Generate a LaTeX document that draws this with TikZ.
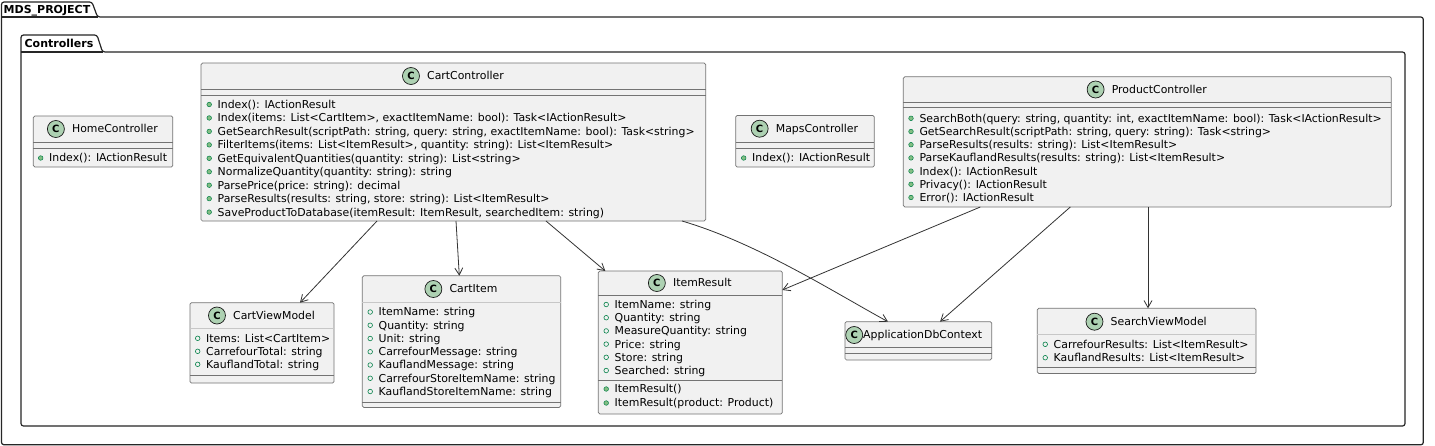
\documentclass[tikz,border=0pt]{standalone}
\usepackage{fontspec}
\setmainfont{DejaVu Sans}
\usetikzlibrary{arrows.meta,calc,positioning}
\definecolor{clsfill}{HTML}{F1F1F1}
\definecolor{clsline}{HTML}{181818}
\definecolor{spotfill}{HTML}{ADD1B2}
\definecolor{pubfill}{HTML}{84BE84}
\definecolor{publine}{HTML}{038048}
\newcommand\umlmeth[4]{\filldraw[methdot] (#2-8.3,#3) circle[radius=2.3pt]; \node[clsmember] (#1) at (#2,#3) {#4};}
\newcommand\umlfield[4]{\filldraw[fielddot] (#2-8.3,#3) circle[radius=2.3pt]; \node[clsmember] (#1) at (#2,#3) {#4};}
\begin{document}
\begin{tikzpicture}[x=1pt,y=-1pt,
  font=\fontsize{10.9}{13}\selectfont,
  clsbox/.style={draw=black!55, fill=clsfill, line width=0.7pt, rounded corners=1.5pt, anchor=north west, inner sep=0pt, outer sep=0pt},
  clssep/.style={draw=black!55, line width=0.6pt},
  clsfaint/.style={draw=black!22, line width=0.5pt},
  clsname/.style={inner sep=0pt, text height=7.8pt, text depth=0pt, anchor=center},
  clsmember/.style={inner sep=0pt, text height=7.8pt, text depth=0pt, anchor=west},
  clsspot/.style={circle, draw=clsline, fill=spotfill, line width=0.7pt, minimum size=17pt, inner sep=0pt, font=\fontsize{10}{10}\selectfont\bfseries},
  methdot/.style={fill=pubfill, draw=publine, line width=0.5pt},
  fielddot/.style={fill=clsfill, draw=publine, line width=0.6pt},
  deparrow/.style={draw=black!80, line width=0.8pt, -{Straight Barb[length=7pt,width=8pt]}},
  pkgframe/.style={draw=black!85, line width=1.2pt, rounded corners=2.5pt},
  pkgname/.style={inner sep=0pt, text height=8pt, text depth=0pt, anchor=center, font=\fontsize{11}{13}\selectfont\bfseries}]
\useasboundingbox (0,0) rectangle (1435,445);
\fill[white] (0,0) rectangle (1435,445);

% packages
\draw[pkgframe] (1.5,444.8) -- (1.5,2) -- (92,2) -- (97.5,17) -- (1423.3,17) -- (1423.3,444.8) -- cycle;
\draw[pkgframe] (1.5,17) -- (97.5,17);
\node[pkgname] (mdsT) at (47,9) {MDS\_PROJECT};
\draw[pkgframe] (21,426) -- (21,35) -- (97,35) -- (102.5,52) -- (1405,52) -- (1405,426) -- cycle;
\draw[pkgframe] (21,52) -- (102.5,52);
\node[pkgname] (ctrlT) at (59,43.5) {Controllers};

% HomeController
\node[clsbox, minimum width=139.5pt, minimum height=51pt] (home) at (33.3,116) {};
\draw[clssep] (33.3,142) -- (172.8,142) (33.3,148) -- (172.8,148);
\node[clsname] (homeN) at (115,129) {HomeController};
\node[clsspot] (homeC) at ([xshift=-16pt]homeN.west) {C};
\umlmeth{homeM1}{49}{158}{Index(): IActionResult}

% CartController
\node[clsbox, minimum width=504.7pt, minimum height=158pt] (cart) at (201,63) {};
\draw[clssep] (201,89.3) -- (705.7,89.3) (201,94.8) -- (705.7,94.8);
\node[clsname] (cartN) at (465.5,76) {CartController};
\node[clsspot] (cartC) at ([xshift=-16pt]cartN.west) {C};
\umlmeth{cartM1}{217.5}{104.5}{Index(): IActionResult}
\umlmeth{cartM2}{217.5}{117.95}{Index(items: List<CartItem>, exactItemName: bool): Task<IActionResult>}
\umlmeth{cartM3}{217.5}{131.4}{GetSearchResult(scriptPath: string, query: string, exactItemName: bool): Task<string>}
\umlmeth{cartM4}{217.5}{144.85}{FilterItems(items: List<ItemResult>, quantity: string): List<ItemResult>}
\umlmeth{cartM5}{217.5}{158.3}{GetEquivalentQuantities(quantity: string): List<string>}
\umlmeth{cartM6}{217.5}{171.75}{NormalizeQuantity(quantity: string): string}
\umlmeth{cartM7}{217.5}{185.2}{ParsePrice(price: string): decimal}
\umlmeth{cartM8}{217.5}{198.65}{ParseResults(results: string, store: string): List<ItemResult>}
\umlmeth{cartM9}{217.5}{212.1}{SaveProductToDatabase(itemResult: ItemResult, searchedItem: string)}

% MapsController
\node[clsbox, minimum width=138.6pt, minimum height=51.5pt] (maps) at (735.7,115.5) {};
\draw[clssep] (735.7,142) -- (874.3,142) (735.7,148) -- (874.3,148);
\node[clsname] (mapsN) at (817,128.7) {MapsController};
\node[clsspot] (mapsC) at ([xshift=-16pt]mapsN.west) {C};
\umlmeth{mapsM1}{752}{158}{Index(): IActionResult}

% ProductController
\node[clsbox, minimum width=488pt, minimum height=130.3pt] (prod) at (903.3,76.7) {};
\draw[clssep] (903.3,102.3) -- (1391.3,102.3) (903.3,107) -- (1391.3,107);
\node[clsname] (prodN) at (1159.3,89.5) {ProductController};
\node[clsspot] (prodC) at ([xshift=-16pt]prodN.west) {C};
\umlmeth{prodM1}{919.3}{118.3}{SearchBoth(query: string, quantity: int, exactItemName: bool): Task<IActionResult>}
\umlmeth{prodM2}{919.3}{131.5}{GetSearchResult(scriptPath: string, query: string): Task<string>}
\umlmeth{prodM3}{919.3}{144.7}{ParseResults(results: string): List<ItemResult>}
\umlmeth{prodM4}{919.3}{157.9}{ParseKauflandResults(results: string): List<ItemResult>}
\umlmeth{prodM5}{919.3}{171.1}{Index(): IActionResult}
\umlmeth{prodM6}{919.3}{184.3}{Privacy(): IActionResult}
\umlmeth{prodM7}{919.3}{197.5}{Error(): IActionResult}

% CartViewModel
\node[clsbox, minimum width=144pt, minimum height=80.3pt] (cvm) at (190,302.7) {};
\draw[clsfaint] (190,328.5) -- (334,328.5);
\draw[clssep] (190,375) -- (334,375);
\node[clsname] (cvmN) at (274,315.5) {CartViewModel};
\node[clsspot] (cvmC) at ([xshift=-16pt]cvmN.west) {C};
\umlfield{cvmF1}{206}{338.3}{Items: List<CartItem>}
\umlfield{cvmF2}{206}{351.3}{CarrefourTotal: string}
\umlfield{cvmF3}{206}{364.3}{KauflandTotal: string}

% CartItem
\node[clsbox, minimum width=198.4pt, minimum height=131.8pt] (citem) at (362.3,275.7) {};
\draw[clsfaint] (362.3,302) -- (560.7,302);
\draw[clssep] (362.3,402) -- (560.7,402);
\node[clsname] (citemN) at (473.5,289) {CartItem};
\node[clsspot] (citemC) at ([xshift=-16pt]citemN.west) {C};
\umlfield{citemF1}{378.5}{312}{ItemName: string}
\umlfield{citemF2}{378.5}{325.25}{Quantity: string}
\umlfield{citemF3}{378.5}{338.5}{Unit: string}
\umlfield{citemF4}{378.5}{351.75}{CarrefourMessage: string}
\umlfield{citemF5}{378.5}{365}{KauflandMessage: string}
\umlfield{citemF6}{378.5}{378.25}{CarrefourStoreItemName: string}
\umlfield{citemF7}{378.5}{391.5}{KauflandStoreItemName: string}

% ItemResult
\node[clsbox, minimum width=184pt, minimum height=143pt] (ires) at (598.3,271) {};
\draw[clssep] (598.3,295) -- (782.3,295) (598.3,380) -- (782.3,380);
\node[clsname] (iresN) at (702.3,283) {ItemResult};
\node[clsspot] (iresC) at ([xshift=-16pt]iresN.west) {C};
\umlfield{iresF1}{614.5}{304.5}{ItemName: string}
\umlfield{iresF2}{614.5}{317.7}{Quantity: string}
\umlfield{iresF3}{614.5}{330.9}{MeasureQuantity: string}
\umlfield{iresF4}{614.5}{344.1}{Price: string}
\umlfield{iresF5}{614.5}{357.3}{Store: string}
\umlfield{iresF6}{614.5}{370.5}{Searched: string}
\umlmeth{iresM1}{614.5}{389}{ItemResult()}
\umlmeth{iresM2}{614.5}{403}{ItemResult(product: Product)}

% ApplicationDbContext
\node[clsbox, minimum width=146.7pt, minimum height=38.3pt] (adb) at (845,321.7) {};
\draw[clssep] (845,347.7) -- (991.7,347.7) (845,353.3) -- (991.7,353.3);
\node[clsname, anchor=west] (adbN) at (863,335) {ApplicationDbContext};
\node[clsspot] (adbC) at (854.2,335) {C};

% SearchViewModel
\node[clsbox, minimum width=218.7pt, minimum height=65.2pt] (svm) at (1037.3,308.3) {};
\draw[clsfaint] (1037.3,334) -- (1256,334);
\draw[clssep] (1037.3,367.5) -- (1256,367.5);
\node[clsname] (svmN) at (1158.7,321.7) {SearchViewModel};
\node[clsspot] (svmC) at ([xshift=-16pt]svmN.west) {C};
\umlfield{svmF1}{1053.5}{344.3}{CarrefourResults: List<ItemResult>}
\umlfield{svmF2}{1053.5}{357.7}{KauflandResults: List<ItemResult>}

% dependencies
\draw[deparrow] ([xshift=176pt]cart.south west) -- ([xshift=110pt]cvm.north west);
\draw[deparrow] ([xshift=255pt]cart.south west) -- ([xshift=97pt]citem.north west);
\draw[deparrow] ([xshift=345pt]cart.south west) -- ([xshift=7pt]ires.north west);
\draw[deparrow] ([xshift=481pt]cart.south west) .. controls +(75,22) and +(-55,-30) .. ([xshift=43pt]adb.north west);
\draw[deparrow] ([xshift=77pt]prod.south west) -- ([yshift=-19pt]ires.north east);
\draw[deparrow] ([xshift=167pt]prod.south west) -- ([xshift=95pt]adb.north west);
\draw[deparrow] ([xshift=244.7pt]prod.south west) -- ([xshift=110.7pt]svm.north west);
\end{tikzpicture}
\end{document}
